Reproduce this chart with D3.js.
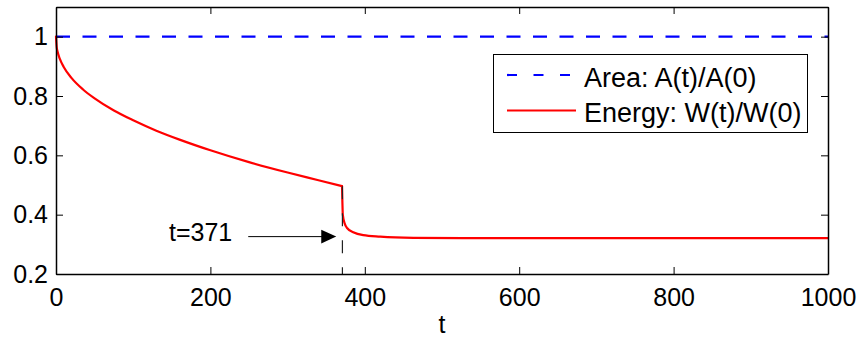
<!DOCTYPE html>
<html>
<head>
<meta charset="utf-8">
<script src="https://cdn.jsdelivr.net/npm/d3@7"></script>
<style>
  html, body { margin: 0; padding: 0; background: #fff; }
  svg { display: block; }
  text { font-family: "Liberation Sans", Arial, Helvetica, sans-serif; fill: #000; }
</style>
</head>
<body>
<svg id="chart" width="861" height="340"></svg>
<script>
// ---- data ----
const areaT = [0, 1000];
const areaV = [1, 1];
const energyT = [0, 1, 2, 5, 10, 20, 35, 50, 75, 100, 130, 160, 200, 250, 300, 340, 370.5, 371, 371.5, 374, 377, 385, 398, 420, 463, 527, 700, 1000];
const energyV = [1.0, 0.963, 0.950, 0.925, 0.898, 0.861, 0.822, 0.792, 0.751, 0.718, 0.683, 0.653, 0.617, 0.577, 0.542, 0.516, 0.496, 0.44, 0.40, 0.37, 0.355, 0.341, 0.331, 0.326, 0.322, 0.321, 0.321, 0.321];
const xTicks = [0, 200, 400, 600, 800, 1000];
const xTickLabels = ["0", "200", "400", "600", "800", "1000"];
const yTicks = [0.2, 0.4, 0.6, 0.8, 1];
const yTickLabels = ["0.2", "0.4", "0.6", "0.8", "1"];
const seriesNames = ["Area: A(t)/A(0)", "Energy: W(t)/W(0)"];
const eventT = 371;
const eventTopV = 0.496;
const eventLabel = "t=371";
const arrowFromT = 249, arrowToT = 363, arrowV = 0.326;
const xDomain = [0, 1000];
const yDomain = [0.2, 1.1];

// ---- layout ----
const svg = d3.select("#chart");
const L = 56, R = 828, T = 7, B = 274;
const x = d3.scaleLinear().domain(xDomain).range([L, R]);
const y = d3.scaleLinear().domain(yDomain).range([B, T]);
const FS = 25;

const areaData = areaT.map((t, i) => [t, areaV[i]]);
const energyData = energyT.map((t, i) => [t, energyV[i]]);
const splitIdx = energyT.indexOf(370.5);
const energyBefore = energyData.slice(0, splitIdx + 1);
const energyAfter = energyData.slice(splitIdx);

svg.append("path").datum(areaData)
  .attr("d", d3.line().x(d => x(d[0])).y(d => y(d[1])))
  .attr("fill", "none").attr("stroke", "#0000ff").attr("stroke-width", 2.2)
  .attr("stroke-dasharray", "14,12.5");

const eLine = d3.line().x(d => x(d[0])).y(d => y(d[1])).curve(d3.curveMonotoneX);
[energyBefore, energyAfter].forEach(seg => {
  svg.append("path").datum(seg)
    .attr("d", eLine)
    .attr("fill", "none").attr("stroke", "#ff0000").attr("stroke-width", 2.2)
    .attr("stroke-linejoin", "round").attr("stroke-linecap", "round");
});

// event dashed line
svg.append("line")
  .attr("x1", x(eventT)).attr("x2", x(eventT))
  .attr("y1", y(eventTopV)).attr("y2", y(yDomain[0]))
  .attr("stroke", "#222").attr("stroke-width", 1.2)
  .attr("stroke-dasharray", "13,14");

// arrow
const ay = y(arrowV);
const tipX = x(arrowToT);
svg.append("line")
  .attr("x1", x(arrowFromT)).attr("x2", tipX - 14)
  .attr("y1", ay).attr("y2", ay)
  .attr("stroke", "#000").attr("stroke-width", 1);
svg.append("path")
  .attr("d", `M${tipX},${ay} L${tipX - 15},${ay - 6.8} L${tipX - 15},${ay + 6.8} Z`)
  .attr("fill", "#000");
svg.append("text")
  .attr("x", x(arrowFromT) - 16).attr("y", ay + 4.5)
  .attr("text-anchor", "end").attr("font-size", FS)
  .text(eventLabel);

// axes
function styleAxis(g) {
  g.select(".domain").attr("stroke", "#000").attr("stroke-width", 1.5).attr("fill", "none");
  g.selectAll(".tick line").attr("stroke", "#000").attr("stroke-width", 1);
  g.selectAll("text").attr("font-size", FS).attr("font-family", "Liberation Sans, Arial, sans-serif").attr("fill", "#000");
}
svg.append("g").attr("transform", `translate(0,${B})`)
  .call(d3.axisBottom(x).tickValues(xTicks).tickSizeInner(-7).tickSizeOuter(0).tickPadding(14)
    .tickFormat((d, i) => xTickLabels[i]))
  .call(styleAxis);
svg.append("g").attr("transform", `translate(0,${T})`)
  .call(d3.axisTop(x).tickValues(xTicks).tickSizeInner(-7).tickSizeOuter(0).tickFormat(""))
  .call(styleAxis);
svg.append("g").attr("transform", `translate(${L},0)`)
  .call(d3.axisLeft(y).tickValues(yTicks).tickSizeInner(-7).tickSizeOuter(0).tickPadding(8)
    .tickFormat((d, i) => yTickLabels[i]))
  .call(styleAxis);
svg.append("g").attr("transform", `translate(${R},0)`)
  .call(d3.axisRight(y).tickValues(yTicks).tickSizeInner(-7).tickSizeOuter(0).tickFormat(""))
  .call(styleAxis);

// x label
svg.append("text").attr("x", (L + R) / 2).attr("y", 333)
  .attr("text-anchor", "middle").attr("font-size", FS).text("t");

// legend
const lg = svg.append("g");
lg.append("rect").attr("x", 493.5).attr("y", 54.5).attr("width", 314).attr("height", 78)
  .attr("fill", "#fff").attr("stroke", "#000").attr("stroke-width", 1);
const legendY = [75, 110.5];
lg.append("line").attr("x1", 507).attr("x2", 576).attr("y1", legendY[0]).attr("y2", legendY[0])
  .attr("stroke", "#0000ff").attr("stroke-width", 2.2).attr("stroke-dasharray", "10,16.5");
lg.append("line").attr("x1", 507).attr("x2", 576).attr("y1", legendY[1]).attr("y2", legendY[1])
  .attr("stroke", "#ff0000").attr("stroke-width", 2.2);
seriesNames.forEach((n, i) => {
  lg.append("text").attr("x", 584).attr("y", legendY[i] + 11.5)
    .attr("font-size", 27).text(n);
});
</script>
</body>
</html>
